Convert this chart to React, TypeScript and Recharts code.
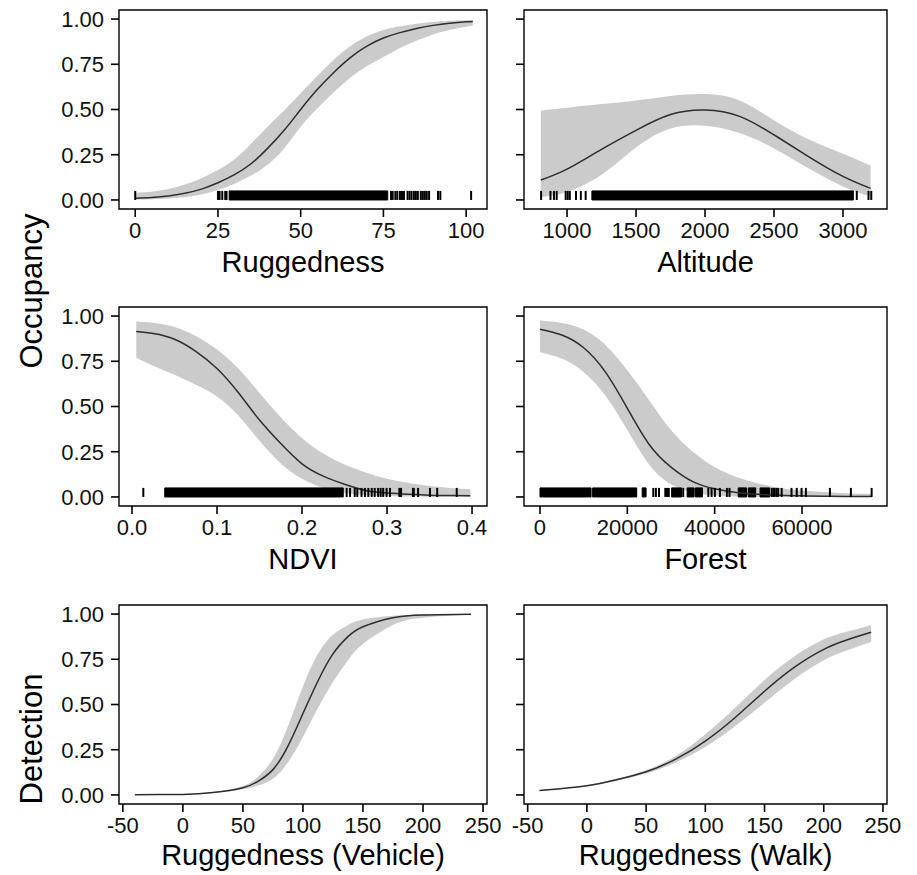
import React from 'react';
import {
  ComposedChart, Area, Line, XAxis, YAxis, ReferenceArea, ReferenceLine,
} from 'recharts';

const FONT = '"Liberation Sans", Arial, Helvetica, sans-serif';
const RIBBON = '#cbcbcb';
const LINE = '#2e2e2e';
const INK = '#111';

// ── Occupancy ~ Ruggedness ────────────────────────────────────────────────────
const ruggedX = [0, 5, 10, 15, 20, 25, 30, 35, 40, 45, 50, 55, 60, 65, 70, 75, 80, 85, 90, 95, 100, 102];
const ruggedMean = [0.01, 0.014, 0.022, 0.037, 0.06, 0.095, 0.14, 0.2, 0.285, 0.385, 0.5, 0.61, 0.705, 0.787, 0.85, 0.895, 0.925, 0.948, 0.965, 0.977, 0.985, 0.987];
const ruggedHigh = [0.04, 0.045, 0.06, 0.085, 0.12, 0.165, 0.225, 0.31, 0.405, 0.495, 0.59, 0.685, 0.775, 0.85, 0.905, 0.94, 0.96, 0.974, 0.984, 0.99, 0.994, 0.995];
const ruggedLow = [0.002, 0.004, 0.008, 0.015, 0.03, 0.055, 0.09, 0.135, 0.195, 0.285, 0.405, 0.505, 0.595, 0.675, 0.74, 0.79, 0.84, 0.88, 0.915, 0.94, 0.958, 0.963];
const ruggedRug = [0, 25, 25.5, 26.3, 27.2, 27.6, 77.3, 77.8, 78.6, 79.2, 80, 80.6, 81.2, 82.3, 82.9, 83.5, 84.2, 84.8, 85.4, 86.3, 86.9, 87.5, 88.1, 88.8, 91.5, 92.2, 101.5];
const ruggedSpans = [[28.4, 76.3]];

// ── Occupancy ~ Altitude ──────────────────────────────────────────────────────
const altX = [810, 1000, 1250, 1500, 1750, 2000, 2250, 2500, 2750, 3000, 3200];
const altMean = [0.11, 0.17, 0.28, 0.385, 0.472, 0.497, 0.462, 0.36, 0.24, 0.13, 0.064];
const altHigh = [0.495, 0.51, 0.53, 0.55, 0.575, 0.585, 0.55, 0.44, 0.335, 0.255, 0.19];
const altLow = [0.015, 0.045, 0.14, 0.29, 0.395, 0.41, 0.37, 0.285, 0.175, 0.075, 0.02];
const altRug = [812, 880, 905, 925, 990, 1005, 1020, 1065, 1100, 1135, 3100, 3185, 3205];
const altSpans = [[1180, 3075]];

// ── Occupancy ~ NDVI ──────────────────────────────────────────────────────────
const ndviX = [0.005, 0.025, 0.05, 0.075, 0.1, 0.125, 0.15, 0.175, 0.2, 0.225, 0.25, 0.275, 0.3, 0.325, 0.35, 0.375, 0.398];
const ndviMean = [0.914, 0.903, 0.872, 0.805, 0.71, 0.577, 0.425, 0.295, 0.183, 0.115, 0.07, 0.036, 0.022, 0.015, 0.01, 0.008, 0.006];
const ndviHigh = [0.97, 0.963, 0.94, 0.89, 0.815, 0.71, 0.575, 0.44, 0.325, 0.24, 0.18, 0.135, 0.1, 0.077, 0.061, 0.05, 0.043];
const ndviLow = [0.77, 0.725, 0.675, 0.62, 0.555, 0.45, 0.31, 0.185, 0.1, 0.048, 0.022, 0.01, 0.005, 0.002, 0.001, 0.0005, 0.0003];
const ndviRug = [0.0133, 0.2525, 0.2565, 0.262, 0.265, 0.27, 0.274, 0.278, 0.282, 0.2855, 0.2895, 0.2925, 0.2955, 0.2995, 0.3035, 0.3145, 0.3165, 0.3305, 0.3315, 0.3365, 0.3505, 0.359, 0.382];
const ndviSpans = [[0.0385, 0.2485]];

// ── Occupancy ~ Forest ────────────────────────────────────────────────────────
const forestX = [0, 5000, 10000, 15000, 20000, 25000, 30000, 35000, 40000, 45000, 50000, 55000, 60000, 65000, 70000, 76000];
const forestMean = [0.927, 0.895, 0.825, 0.69, 0.49, 0.29, 0.165, 0.085, 0.045, 0.025, 0.015, 0.009, 0.006, 0.004, 0.003, 0.002];
const forestHigh = [0.975, 0.962, 0.925, 0.84, 0.7, 0.535, 0.37, 0.25, 0.165, 0.11, 0.075, 0.05, 0.035, 0.027, 0.02, 0.016];
const forestLow = [0.8, 0.765, 0.69, 0.56, 0.37, 0.18, 0.07, 0.025, 0.008, 0.003, 0.001, 0.0005, 0.0003, 0.0002, 0.0001, 0.0001];
const forestRug = [25950, 26550, 27250, 28700, 29100, 29500, 32800, 38550, 39300, 40050, 41200, 42800, 43400, 53100, 53600, 54100, 54550, 55350, 57600, 58800, 59900, 60900, 66400, 71200, 75950];
const forestSpans = [[0, 11700], [12050, 22150], [23400, 24300], [30150, 32400], [33700, 35300], [35600, 37200], [45400, 47300], [47700, 49400], [50400, 52600]];

// ── Detection ~ Ruggedness (Vehicle) ──────────────────────────────────────────
const vehX = [-40, -20, 0, 25, 50, 62.5, 75, 87.5, 100, 112.5, 125, 137.5, 150, 175, 200, 240];
const vehMean = [0.001, 0.002, 0.003, 0.013, 0.04, 0.075, 0.14, 0.27, 0.45, 0.63, 0.78, 0.875, 0.93, 0.98, 0.995, 0.999];
const vehHigh = [0.001, 0.002, 0.004, 0.016, 0.05, 0.1, 0.2, 0.38, 0.6, 0.78, 0.885, 0.94, 0.97, 0.99, 0.997, 1.0];
const vehLow = [0.0005, 0.001, 0.002, 0.011, 0.032, 0.052, 0.09, 0.18, 0.32, 0.48, 0.625, 0.745, 0.835, 0.94, 0.98, 0.997];

// ── Detection ~ Ruggedness (Walk) ─────────────────────────────────────────────
const walkX = [-40, -25, 0, 25, 50, 75, 100, 125, 150, 175, 200, 220, 240];
const walkMean = [0.024, 0.033, 0.051, 0.084, 0.128, 0.198, 0.298, 0.427, 0.573, 0.705, 0.805, 0.858, 0.899];
const walkHigh = [0.026, 0.035, 0.054, 0.089, 0.137, 0.215, 0.335, 0.48, 0.635, 0.765, 0.86, 0.903, 0.94];
const walkLow = [0.022, 0.031, 0.048, 0.079, 0.119, 0.18, 0.265, 0.38, 0.51, 0.64, 0.745, 0.8, 0.845];

const probTicks = [0, 0.25, 0.5, 0.75, 1];
const ruggedTicks = [0, 25, 50, 75, 100];
const altTicks = [1000, 1500, 2000, 2500, 3000];
const ndviTicks = [0, 0.1, 0.2, 0.3, 0.4];
const forestTicks = [0, 20000, 40000, 60000];
const detTicks = [-50, 0, 50, 100, 150, 200, 250];

// layout
const PLOT_H = 199;
const CHART_H = 275;
const LEFT_COL = { left: 0, width: 505, yw: 119, mr: 18 };
const RIGHT_COL = { left: 505, width: 412, yw: 19, mr: 30 };
const ROW_TOPS = [0, 297, 595];

interface PanelProps {
  col: typeof LEFT_COL;
  top: number;
  x: number[];
  mean: number[];
  low: number[];
  high: number[];
  rug?: number[];
  spans?: number[][];
  domain: [number, number];
  ticks: number[];
  fmt?: (v: number) => string;
  yLabels: boolean;
}

function Panel({ col, top, x, mean, low, high, rug = [], spans = [], domain, ticks, fmt, yLabels }: PanelProps) {
  const data = x.map((v, i) => ({ x: v, mean: mean[i], band: [low[i], high[i]] }));
  const tickStyle = { fill: INK, fontSize: 22, fontFamily: FONT };
  return (
    <div style={{ position: 'absolute', left: col.left, top }}>
      <ComposedChart
        width={col.width}
        height={CHART_H}
        data={data}
        margin={{ top: 10, right: col.mr, left: 0, bottom: 0 }}
      >
        <XAxis
          type="number"
          dataKey="x"
          domain={domain}
          ticks={ticks}
          interval={0}
          allowDataOverflow
          tickFormatter={fmt}
          height={CHART_H - 10 - PLOT_H}
          axisLine={false}
          tickSize={8}
          tickMargin={5}
          tickLine={{ stroke: '#000', strokeWidth: 1.6 }}
          tick={tickStyle}
        />
        <YAxis
          type="number"
          domain={[-0.05, 1.05]}
          ticks={probTicks}
          interval={0}
          allowDataOverflow
          width={col.yw}
          axisLine={false}
          tickSize={8}
          tickMargin={7}
          tickLine={{ stroke: '#000', strokeWidth: 1.6 }}
          tick={tickStyle}
          tickFormatter={(v: number) => (yLabels ? v.toFixed(2) : '')}
        />
        <Area
          dataKey="band"
          type="natural"
          fill={RIBBON}
          fillOpacity={1}
          stroke="none"
          isAnimationActive={false}
        />
        <Line
          dataKey="mean"
          type="natural"
          stroke={LINE}
          strokeWidth={1.5}
          dot={false}
          isAnimationActive={false}
        />
        {spans.map(([a, b], i) => (
          <ReferenceArea
            key={'s' + i}
            x1={a}
            x2={b}
            y1={0}
            y2={0.05}
            fill="#000"
            fillOpacity={1}
            stroke="#000"
            strokeWidth={1}
            ifOverflow="visible"
          />
        ))}
        {rug.map((v, i) => (
          <ReferenceLine
            key={'r' + i}
            segment={[{ x: v, y: 0 }, { x: v, y: 0.05 }]}
            stroke="#000"
            strokeWidth={2}
            ifOverflow="visible"
          />
        ))}
        <ReferenceArea
          x1={domain[0]}
          x2={domain[1]}
          y1={-0.05}
          y2={1.05}
          fill="none"
          stroke="#000"
          strokeWidth={1.4}
          ifOverflow="visible"
        />
      </ComposedChart>
    </div>
  );
}

const titleStyle = { fontFamily: FONT, fill: '#000' };

export default function App() {
  return (
    <div style={{ position: 'relative', width: 917, height: 875, background: '#fff', overflow: 'hidden' }}>
      <style>{'body{margin:0}.recharts-surface{overflow:visible}'}</style>

      <Panel col={LEFT_COL} top={ROW_TOPS[0]} x={ruggedX} mean={ruggedMean} low={ruggedLow} high={ruggedHigh}
        rug={ruggedRug} spans={ruggedSpans} domain={[-4.9, 106.3]} ticks={ruggedTicks} yLabels />
      <Panel col={RIGHT_COL} top={ROW_TOPS[0]} x={altX} mean={altMean} low={altLow} high={altHigh}
        rug={altRug} spans={altSpans} domain={[688, 3319]} ticks={altTicks} yLabels={false} />

      <Panel col={LEFT_COL} top={ROW_TOPS[1]} x={ndviX} mean={ndviMean} low={ndviLow} high={ndviHigh}
        rug={ndviRug} spans={ndviSpans} domain={[-0.0153, 0.4176]} ticks={ndviTicks}
        fmt={(v) => v.toFixed(1)} yLabels />
      <Panel col={RIGHT_COL} top={ROW_TOPS[1]} x={forestX} mean={forestMean} low={forestLow} high={forestHigh}
        rug={forestRug} spans={forestSpans} domain={[-3660, 79470]} ticks={forestTicks} yLabels={false} />

      <Panel col={LEFT_COL} top={ROW_TOPS[2]} x={vehX} mean={vehMean} low={vehLow} high={vehHigh}
        domain={[-53.2, 253.3]} ticks={detTicks} yLabels />
      <Panel col={RIGHT_COL} top={ROW_TOPS[2]} x={walkX} mean={walkMean} low={walkLow} high={walkHigh}
        domain={[-53.1, 253.4]} ticks={detTicks} yLabels={false} />

      {/* axis titles */}
      <svg width={917} height={875} style={{ position: 'absolute', left: 0, top: 0, pointerEvents: 'none' }}>
        <g style={titleStyle} fontSize={29} textAnchor="middle">
          <text x={303} y={272}>Ruggedness</text>
          <text x={705.5} y={272}>Altitude</text>
          <text x={303} y={569}>NDVI</text>
          <text x={705.5} y={569}>Forest</text>
          <text x={303} y={865}>Ruggedness (Vehicle)</text>
          <text x={705.5} y={865}>Ruggedness (Walk)</text>
        </g>
        <g style={titleStyle} fontSize={31} textAnchor="middle">
          <text x={42} y={291} transform="rotate(-90 42 291)">Occupancy</text>
          <text x={42} y={739} transform="rotate(-90 42 739)">Detection</text>
        </g>
      </svg>
    </div>
  );
}
